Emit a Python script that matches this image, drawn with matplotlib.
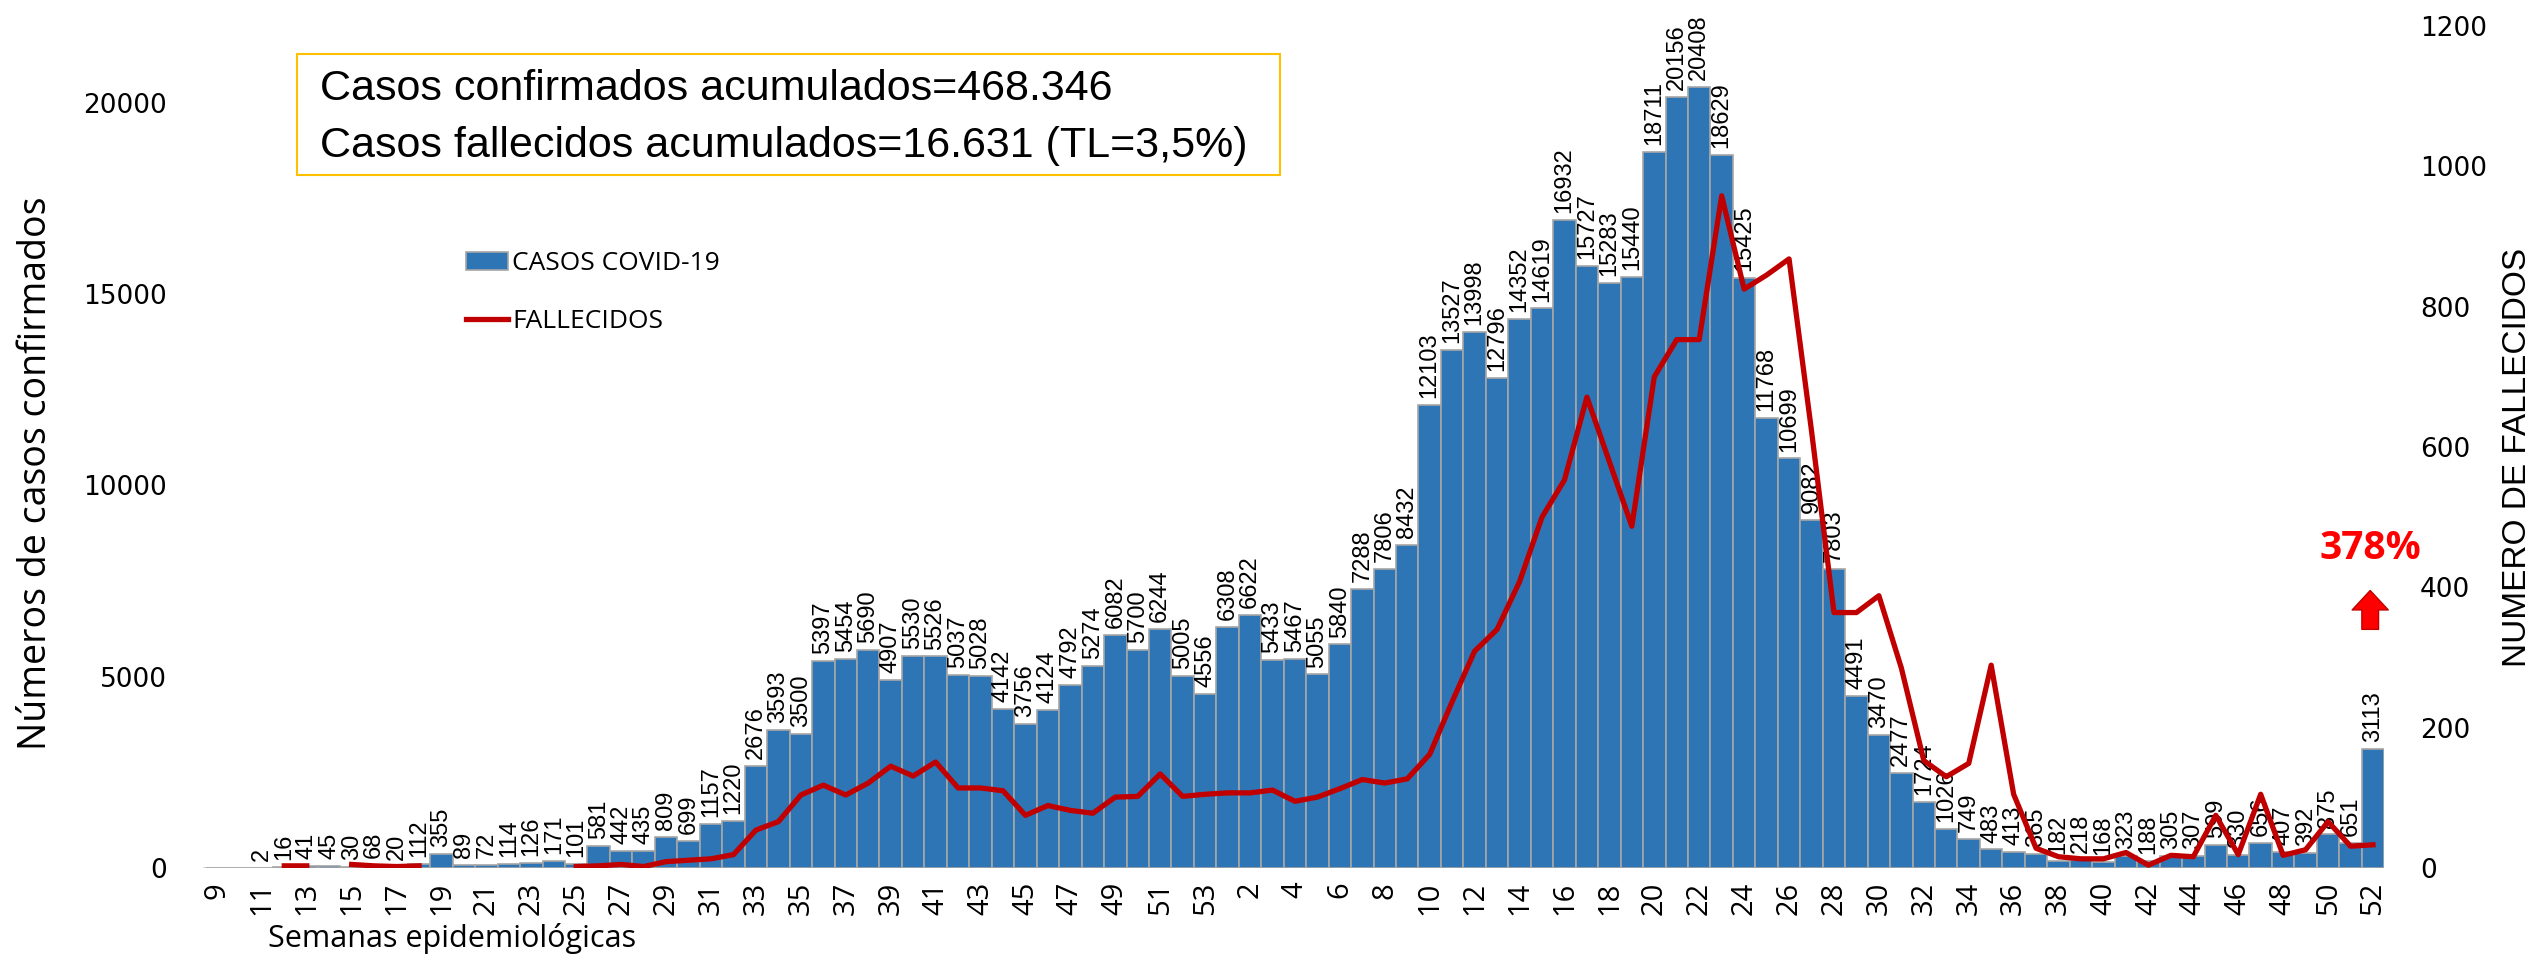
import numpy as np
import matplotlib
matplotlib.use('Agg')
import matplotlib.pyplot as plt
from matplotlib.patches import Rectangle
from matplotlib.transforms import offset_copy

# semanas epidemiologicas: 2020 (9-53) y 2021 (1-52)
weeks_2020 = list(range(9, 54))
weeks_2021 = list(range(1, 53))

cases_2020 = [0, 0, 2, 16, 41, 45, 30, 68, 20, 112, 355, 89, 72, 114, 126, 171,
              101, 581, 442, 435, 809, 699, 1157, 1220, 2676, 3593, 3500, 5397,
              5454, 5690, 4907, 5530, 5526, 5037, 5028, 4142, 3756, 4124, 4792,
              5274, 6082, 5700, 6244, 5005, 4556]
cases_2021 = [6308, 6622, 5433, 5467, 5055, 5840, 7288, 7806, 8432, 12103, 13527,
              13998, 12796, 14352, 14619, 16932, 15727, 15283, 15440, 18711, 20156,
              20408, 18629, 15425, 11768, 10699, 9082, 7803, 4491, 3470, 2477, 1724,
              1026, 749, 483, 413, 365, 182, 218, 168, 323, 188, 305, 307, 599, 330,
              656, 407, 392, 875, 651, 3113]

nan = np.nan
deaths_2020 = [nan, nan, nan, 3, 3, nan, 5, 3, 2, 3, nan, nan, nan, nan, nan, nan,
               2, 3, 5, 2, 9, 11, 13, 19, 54, 66, 104, 118, 104, 121, 145, 131, 151,
               114, 114, 110, 75, 89, 82, 78, 101, 102, 134, 102, 105]
deaths_2021 = [107, 107, 111, 95, 101, 113, 126, 121, 127, 162, 237, 309, 340, 408,
               500, 553, 671, 579, 487, 700, 753, 753, 958, 825, 845, 868, 623, 364,
               364, 388, 285, 153, 130, 149, 289, 105, 28, 16, 13, 13, 22, 4, 18, 16,
               75, 19, 105, 18, 26, 66, 31, 33]

week_labels = [str(w) for w in weeks_2020 + weeks_2021]
cases = cases_2020 + cases_2021
deaths = deaths_2020 + deaths_2021

LIB = ['Liberation Sans', 'DejaVu Sans']
OPEN = ['Open Sans', 'DejaVu Sans']

fig = plt.figure(figsize=(25.47, 9.66), dpi=100)
ax = fig.add_axes([0.0797, 0.1015, 0.8563, 0.8716])
ax2 = ax.twinx()

x = np.arange(len(cases))
bars = ax.bar(x, cases, width=1.0, color='#2E75B6', edgecolor='#A6A6A6',
              linewidth=1.2, label='CASOS COVID-19', zorder=2)
ax.axhline(0, color='#D9D9D9', lw=1.5, zorder=1)
line, = ax2.plot(x, deaths, color='#C00000', lw=3.8, label='FALLECIDOS')

# etiquetas de valores
for i, v in enumerate(cases):
    if v > 0:
        ax.annotate(str(v), (x[i], v), xytext=(0, 5), textcoords='offset points',
                    rotation=90, ha='center', va='bottom', fontsize=17, family=LIB)

ax.set_xlim(-0.62, len(cases) - 0.51)
ax.set_ylim(0, 22000)
ax2.set_ylim(0, 1200)
ax.set_yticks(range(0, 20001, 5000))
ax2.set_yticks(range(0, 1201, 200))
ax.set_xticks(x[::2])
ax.set_xticklabels(week_labels[::2], rotation=90, fontsize=21, family=OPEN)
ax.tick_params(axis='x', length=0, pad=10)
ax.tick_params(axis='y', length=0, pad=26, labelsize=19)
ax2.tick_params(axis='y', length=0, pad=26, labelsize=19)
for a in (ax, ax2):
    for s in a.spines.values():
        s.set_visible(False)

ax.set_ylabel('Números de casos confirmados', fontsize=27, family=OPEN, va='center')
ax.yaxis.set_label_coords(-0.0766, 0.469)
ax2.set_ylabel('NUMERO DE FALLECIDOS', fontsize=24, family=LIB, va='center')
ax2.yaxis.set_label_coords(1.061, 0.487)
ax.set_xlabel('Semanas epidemiológicas', fontsize=22, family=OPEN, ha='left', va='center')
ax.xaxis.set_label_coords(0.0298, -0.0843)

ax2.legend(handles=[bars, line], loc='upper left', bbox_to_anchor=(0.183, 0.740),
           bbox_transform=fig.transFigure, frameon=False, handlelength=1.6,
           handleheight=0.7, handletextpad=0.15, labelspacing=1.25, borderpad=0,
           borderaxespad=0, prop={'family': OPEN, 'size': 19})

# cuadro de totales
fig.add_artist(Rectangle((0.1166, 0.8188), 0.386, 0.1253, transform=fig.transFigure,
                         fill=False, edgecolor='#FFC000', lw=1.5))
fig.text(0.1256, 0.908, 'Casos confirmados acumulados=468.346', fontsize=31,
         family=LIB, va='center')
fig.text(0.1256, 0.849, 'Casos fallecidos acumulados=16.631 (TL=3,5%)', fontsize=31,
         family=LIB, va='center')

# incremento ultima semana
ax.annotate('378%', (x[-1], cases[-1]), xytext=(-2, 144), textcoords='offset points',
            ha='center', va='center', color='red', fontweight='bold', fontsize=28,
            family=OPEN)
tip = offset_copy(ax.transData, fig=fig, x=-2, y=114, units='points')
base = offset_copy(ax.transData, fig=fig, x=-2, y=86, units='points')
ax.annotate('', (x[-1], cases[-1]), xycoords=tip, xytext=(x[-1], cases[-1]), textcoords=base,
            arrowprops=dict(width=12, headwidth=26, headlength=14, facecolor='red',
                            edgecolor='#C00000', lw=1, shrink=0))

plt.savefig('out.png', dpi=100)
